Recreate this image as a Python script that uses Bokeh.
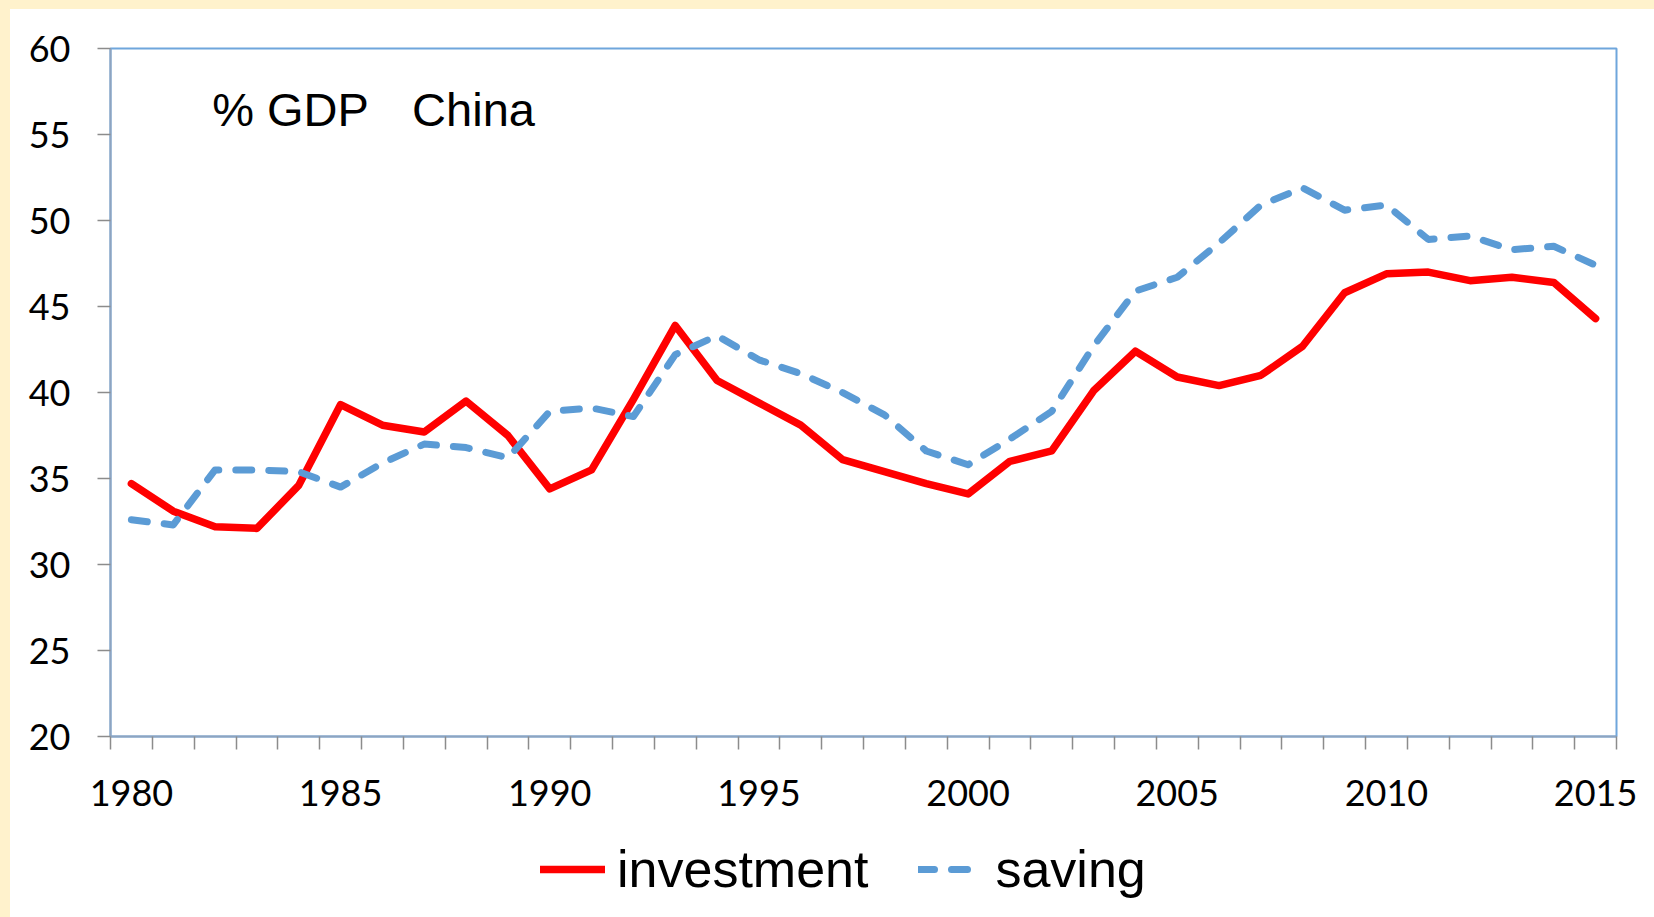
from bokeh.plotting import figure
from bokeh.models import (Range1d, FixedTicker, Legend, LegendItem, Label, Div)
from bokeh.layouts import column, row
from bokeh.embed import file_html
from bokeh.resources import INLINE

years = list(range(1980, 2016))
investment = [34.7, 33.1, 32.2, 32.1, 34.6, 39.3, 38.1, 37.7, 39.5, 37.5,
              34.4, 35.5, 39.6, 43.9, 40.7, 39.4, 38.1, 36.1, 35.4, 34.7,
              34.1, 36.0, 36.6, 40.1, 42.4, 40.9, 40.4, 41.0, 42.7, 45.8,
              46.9, 47.0, 46.5, 46.7, 46.4, 44.3]
saving = [32.6, 32.3, 35.5, 35.5, 35.4, 34.5, 35.9, 37.0, 36.8, 36.2,
          38.9, 39.1, 38.6, 42.2, 43.3, 41.9, 41.1, 40.0, 38.7, 36.6,
          35.8, 37.3, 38.9, 42.7, 45.9, 46.7, 48.7, 50.9, 51.9, 50.6,
          50.9, 48.9, 49.1, 48.3, 48.5, 47.4]
x_tick_labels = [1980, 1985, 1990, 1995, 2000, 2005, 2010, 2015]
y_ticks = [20, 25, 30, 35, 40, 45, 50, 55, 60]
series_names = ["investment", "saving"]
title_left = "% GDP"
title_right = "China"

YELLOW = "#FFF2CC"
BLUE = "#5B9BD5"
RED = "#FF0000"
TICK_FONT = "Lato"
TEXT_FONT = "Liberation Sans"
INV_STYLE = dict(line_color=RED, line_width=7.5, line_join="round", line_cap="round")
SAV_STYLE = dict(line_color=BLUE, line_width=7, line_dash="16 17",
                 line_join="round", line_cap="round")

p = figure(width=1644, height=811, output_backend="svg", toolbar_location=None,
           x_range=Range1d(years[0] - 0.5, years[-1] + 0.5),
           y_range=Range1d(20, 60),
           min_border_left=100, min_border_right=38,
           min_border_top=39, min_border_bottom=84)
p.background_fill_color = "white"
p.border_fill_color = "white"
p.outline_line_color = "#6FA6DC"
p.outline_line_width = 2
p.xgrid.visible = False
p.ygrid.visible = False

xa = p.xaxis[0]
xa.ticker = FixedTicker(ticks=x_tick_labels,
                        minor_ticks=[y - 0.5 for y in years] + [years[-1] + 0.5])
xa.major_tick_out = 0
xa.major_tick_in = 0
xa.minor_tick_out = 13
xa.minor_tick_in = 0
xa.minor_tick_line_color = "#8C8C8C"
xa.minor_tick_line_width = 1.5
xa.axis_line_color = "#8EA4C0"
xa.axis_line_width = 2
xa.major_label_text_font = TICK_FONT
xa.major_label_text_font_size = "36px"
xa.major_label_text_color = "black"
xa.major_label_standoff = 30

ya = p.yaxis[0]
ya.ticker = FixedTicker(ticks=y_ticks)
ya.major_tick_out = 13
ya.major_tick_in = 0
ya.minor_tick_out = 0
ya.minor_tick_in = 0
ya.major_tick_line_color = "#8C8C8C"
ya.major_tick_line_width = 1.5
ya.axis_line_color = "#8EA4C0"
ya.axis_line_width = 2
ya.major_label_text_font = TICK_FONT
ya.major_label_text_font_size = "36px"
ya.major_label_text_color = "black"
ya.major_label_standoff = 27

p.line(years, investment, **INV_STYLE)
p.line(years, saving, **SAV_STYLE)

p.add_layout(Label(x=1981.93, y=56.45, text=title_left, text_font=TEXT_FONT,
                   text_font_size="47px", text_color="black",
                   text_baseline="alphabetic"))
p.add_layout(Label(x=1986.71, y=56.45, text=title_right, text_font=TEXT_FONT,
                   text_font_size="47px", text_color="black",
                   text_baseline="alphabetic"))

# legend strip below the chart (its own copies of the series lie outside its ranges)
leg = figure(width=1644, height=97, output_backend="svg", toolbar_location=None,
             x_range=Range1d(0, 1), y_range=Range1d(0, 1),
             x_axis_type=None, y_axis_type=None,
             min_border=0, min_border_left=0, min_border_right=0,
             min_border_top=0, min_border_bottom=0)
leg.outline_line_color = None
leg.xgrid.visible = False
leg.ygrid.visible = False
leg.background_fill_color = "white"
leg.border_fill_color = "white"
lr1 = leg.line(years, investment, **INV_STYLE)
lr2 = leg.line(years, saving, **SAV_STYLE)
legend = Legend(items=[LegendItem(label=series_names[0], renderers=[lr1]),
                       LegendItem(label=series_names[1], renderers=[lr2])],
                orientation="horizontal", location=(430, 18),
                glyph_width=65, label_standoff=12, spacing=50,
                padding=0, margin=0, border_line_color=None,
                background_fill_alpha=0,
                label_text_font=TEXT_FONT, label_text_font_size="52px",
                label_text_color="black")
leg.add_layout(legend, "center")

top_strip = Div(text="", width=1654, height=9, margin=0,
                styles={"background-color": YELLOW})
left_strip = Div(text="", width=10, height=908, margin=0,
                 styles={"background-color": YELLOW})
layout = column(top_strip,
                row(left_strip, column(p, leg, spacing=0), spacing=0),
                spacing=0)

open("out.html", "w").write(file_html(layout, INLINE))
